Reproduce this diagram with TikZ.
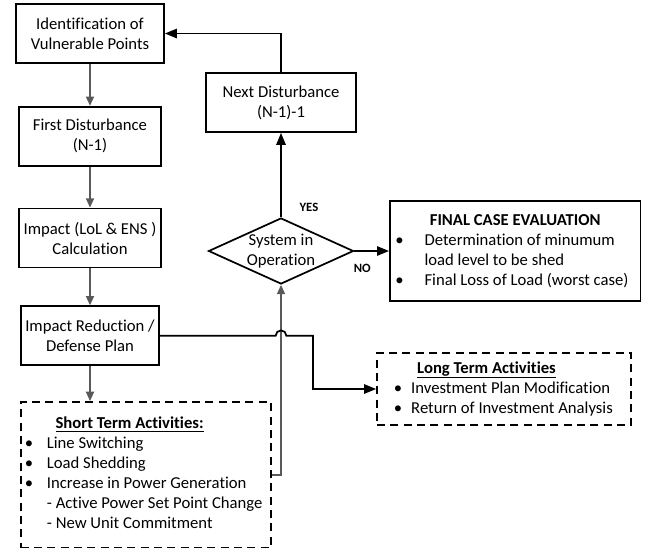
\documentclass[tikz,border=0pt]{standalone}
\usepackage{fontspec}
\setmainfont{Carlito}[Ligatures=NoCommon]
\usetikzlibrary{shapes.geometric,positioning,arrows.meta}
\definecolor{flowgray}{HTML}{595959}
\newcommand{\blt}[1]{\hspace*{#1}\textbullet}

\tikzset{
  box/.style={draw, line width=1.3pt, minimum height=44.25pt, align=center, inner sep=2pt},
  dashbox/.style={draw, line width=1.3pt, dash pattern=on 6pt off 4pt, inner sep=3pt},
  garrow/.style={draw=flowgray, line width=1.3pt, -{Triangle[length=7pt,width=6pt]}},
  barrow/.style={line width=1.3pt, -{Triangle[length=9pt,width=7pt]}},
  answer/.style={font=\fontsize{9.5}{10}\selectfont\bfseries},
}

\begin{document}
\begin{tikzpicture}[x=0.75pt, y=-0.75pt, font=\fontsize{12.5}{15}\selectfont]
\useasboundingbox (0,0) rectangle (652,547);

% Main column
\node[box, minimum width=111pt] (ident) at (90,33.5) {Identification of\\Vulnerable Points};

\node[box,
    below=31.5pt of ident,
    minimum width=106.5pt] (first) {First Disturbance\\(N-1)};

\node[box,
    below=30.75pt of first,
    minimum width=107pt] (impact) {Impact (LoL \& ENS )\\Calculation};

\node[box,
    below=27.75pt of impact,
    minimum width=104pt] (red) {Impact Reduction /\\Defense Plan};

% Short term activities
\node[dashbox,
    below=26.25pt of red.south west,
    anchor=north west,
    minimum width=187.5pt,
    minimum height=109.5pt] (short) {\begin{tabular}{@{}p{13.5pt}@{}l@{}}
\multicolumn{2}{@{}l@{}}{\hspace{20pt}\textbf{\underline{Short Term Activities:}}}\\
\blt{-3pt} & Line Switching\\
\blt{-3pt} & Load Shedding\\
\blt{-3pt} & Increase in Power Generation\\
 & - Active Power Set Point Change\\
 & - New Unit Commitment
\end{tabular}};

% Decision and next disturbance
\node[draw,
    diamond,
    line width=1.3pt,
    aspect=2.2,
    minimum width=108.75pt,
    minimum height=49.5pt,
    inner sep=0pt,
    align=center] (dia) at (281,251) {System in\\Operation};

\node[box, minimum width=112.5pt] (next) at (281,102.5) {Next Disturbance\\(N-1)-1};

% Final case evaluation
\node[box,
    right=26pt of dia,
    minimum width=188pt,
    minimum height=75pt] (final) {\begin{tabular}{@{}p{17pt}@{}l@{}}
\multicolumn{2}{c}{\textbf{FINAL CASE EVALUATION}}\\
\blt{-5pt} & Determination of minumum\\
 & load level to be shed\\
\blt{-5pt} & Final Loss of Load (worst case)
\end{tabular}};

% Long term activities
\node[dashbox,
    minimum width=190.5pt,
    minimum height=54pt] (long) at (504,389) {\begin{tabular}{@{}p{12pt}@{}l@{}}
\multicolumn{2}{@{}l@{}}{\hspace{16.5pt}\textbf{\underline{Long Term Activities}}}\\
\blt{-1pt} & Investment Plan Modification\\
\blt{-1pt} & Return of Investment Analysis
\end{tabular}};

\coordinate (jog) at (313,0);

% Arrows
\draw[garrow] (ident) -- (first);
\draw[garrow] (first) -- (impact);
\draw[garrow] (impact) -- (red);
\draw[garrow] (red) -- (red |- short.north);
\draw[garrow] (short.east) -| (dia.south);

\draw[barrow] (dia.north) -- (next.south)
    node[answer, pos=0.12, right=10pt] {YES};
\draw[barrow] (dia.east) -- (final.west)
    node[answer, pos=0.23, below=6pt] {NO};
\draw[barrow] (next.north) |- (ident.east);

\draw[barrow] (red.east) -- ([xshift=-4pt]red.east -| dia.south)
    arc[start angle=180, end angle=0, radius=4pt]
    -| (jog |- long.west) -- (long.west);

\end{tikzpicture}
\end{document}
